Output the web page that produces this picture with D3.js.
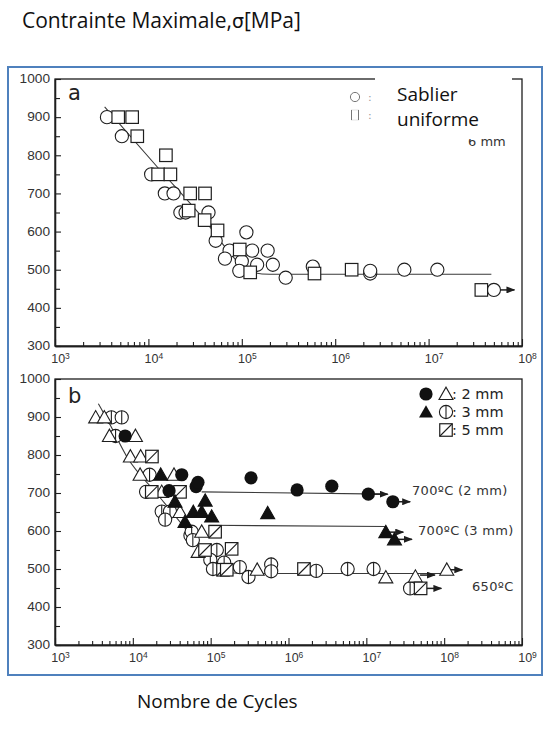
<!DOCTYPE html>
<html>
<head>
<meta charset="utf-8">
<script src="https://cdn.jsdelivr.net/npm/d3@7"></script>
<style>
  body { margin: 0; background: #fff; }
  svg { display: block; }
</style>
</head>
<body>
<script>
// ---------- axis ticks ----------
const decadesA = [1e3, 1e4, 1e5, 1e6, 1e7, 1e8];
const decadesB = [1e3, 1e4, 1e5, 1e6, 1e7, 1e8, 1e9];
const stressTicks = [300, 400, 500, 600, 700, 800, 900, 1000];
const stressMinor = [350, 450, 550, 650, 750, 850, 950];

// ---------- panel a : 6 mm specimens, [cycles, stress MPa] ----------
const aCircles = [
  [3.6e3, 900], [5.2e3, 850], [1.07e4, 750], [1.5e4, 700], [1.86e4, 700],
  [2.2e4, 650], [2.5e4, 650], [4.4e4, 650], [1.12e5, 598], [5.25e4, 576],
  [7.4e4, 550], [1.29e5, 550], [1.89e5, 550], [6.6e4, 529], [1.0e5, 522],
  [1.46e5, 513], [2.15e5, 513], [9.4e4, 497], [2.95e5, 479], [5.76e5, 508],
  [2.37e6, 490], [2.37e6, 497], [5.5e6, 500], [1.24e7, 500], [5.0e7, 447]
];
const aSquares = [
  [4.75e3, 900], [6.7e3, 900], [7.6e3, 850], [1.54e4, 800], [1.27e4, 750],
  [1.72e4, 750], [2.8e4, 700], [4.04e4, 700], [2.7e4, 655], [4.0e4, 630],
  [5.5e4, 603], [9.5e4, 553], [1.23e5, 493], [6.0e5, 490], [1.5e6, 500],
  [3.67e7, 447]
];
// run-outs: [cycles at stop, stress, arrow tip]
const aRunouts = [[5.0e7, 447, 8.3e7]];
const aFit = [
  [3.4e3, 927], [1.28e4, 766], [4.0e4, 630], [8.0e4, 535], [1.2e5, 495],
  [2.0e5, 488], [4.7e7, 488]
];

// ---------- panel b : 2, 3 and 5 mm specimens ----------
const bFilledCircles = [   // 700 ºC, 2 mm
  [7.96e3, 850], [2.92e4, 706], [4.25e4, 748], [6.5e4, 717], [6.87e4, 728],
  [3.3e5, 740], [1.29e6, 708], [3.6e6, 718], [1.06e7, 697], [2.19e7, 677]
];
const bFilledTriangles = [ // 700 ºC, 3 mm
  [2.28e4, 748], [3.48e4, 677], [8.5e4, 680], [4.68e4, 624], [5.98e4, 650],
  [7.67e4, 650], [1.03e5, 638], [5.4e5, 647], [1.78e7, 597], [2.3e7, 578]
];
const bTriangles = [       // 650 ºC, 2 mm
  [3.33e3, 899], [4.3e3, 899], [5.0e3, 850], [1.08e4, 850], [9.3e3, 796],
  [1.26e4, 796], [1.24e4, 748], [3.38e4, 748], [2.35e4, 703], [4.04e4, 650],
  [7.67e4, 598], [6.9e4, 545], [3.96e5, 498], [1.78e7, 478], [4.27e7, 480],
  [1.08e8, 498]
];
const bPhiCircles = [      // 650 ºC, 3 mm
  [5.3e3, 899], [7.2e3, 899], [6.0e3, 850], [1.64e4, 748], [1.48e4, 703],
  [2.35e4, 651], [3.0e4, 651], [2.6e4, 630], [5.5e4, 588], [5.7e4, 598],
  [5.9e4, 576], [1.2e5, 550], [9.9e4, 524], [1.49e5, 517], [1.07e5, 500],
  [2.37e5, 505], [3.06e5, 479], [5.99e5, 512], [5.99e5, 494], [2.27e6, 495],
  [5.75e6, 500], [1.24e7, 500], [3.65e7, 449]
];
const bSlashSquares = [    // 650 ºC, 5 mm
  [1.76e4, 796], [1.75e4, 703], [4.04e4, 703], [1.14e5, 598], [8.46e4, 550],
  [1.86e5, 553], [1.44e5, 498], [1.61e5, 498], [1.58e6, 500], [4.98e7, 449]
];
const bRunouts = [
  [1.06e7, 697, 1.88e7], [2.19e7, 677, 3.66e7], [1.78e7, 597, 2.98e7],
  [2.3e7, 578, 3.85e7], [1.08e8, 498, 1.71e8], [4.98e7, 449, 9.2e7],
  [4.9e7, 484, 7.6e7]
];
const bFit650 = [
  [3.6e3, 935], [5.0e3, 883], [8.7e3, 790], [2.0e4, 700], [5.0e4, 600],
  [1.0e5, 520], [1.8e5, 490], [2.6e5, 488], [1.08e8, 488]
];
const bFit700a = [[7.66e4, 703], [1.78e7, 697]];
const bFit700b = [[9.4e4, 615], [1.78e7, 612]];

const legendB = [":  2 mm", ":  3 mm", ":  5 mm"];
const notesB = [["700ºC (2 mm)", 699], ["700ºC (3 mm)", 620], ["650ºC", 478]];

// ---------- drawing ----------
const INK = "#1e1e1e";
const svg = d3.select("body").append("svg")
  .attr("width", 545).attr("height", 729)
  .style("font-family", "'DejaVu Sans', sans-serif");

const defs = svg.append("defs");
defs.append("marker").attr("id", "head")
  .attr("markerUnits", "userSpaceOnUse")
  .attr("markerWidth", 9).attr("markerHeight", 7)
  .attr("refX", 8).attr("refY", 3.5).attr("orient", "auto")
  .append("path").attr("d", "M0,0L9,3.5L0,7Z").attr("fill", INK);

const title = svg.append("text").attr("x", 22).attr("y", 28)
  .style("font-family", "'Open Sans', sans-serif").style("font-size", "21px").attr("fill", "#111");
title.append("tspan").text("Contrainte Maximale,");
title.append("tspan").style("font-family", "'DejaVu Sans', sans-serif").style("font-size", "19px").text("σ");
title.append("tspan").text("[MPa]");

svg.append("rect").attr("x", 8).attr("y", 67).attr("width", 534).attr("height", 608)
  .attr("fill", "none").attr("stroke", "#4f81bd").attr("stroke-width", 2);

svg.append("text").attr("x", 137).attr("y", 708)
  .style("font-family", "'Open Sans', sans-serif").style("font-size", "19px")
  .attr("fill", "#111").text("Nombre de Cycles");

const xA = d3.scaleLog().domain([1e3, 1e8]).range([55, 522]);
const yA = d3.scaleLinear().domain([300, 1000]).range([346, 79]);
const xB = d3.scaleLog().domain([1e3, 1e9]).range([55, 522]);
const yB = d3.scaleLinear().domain([300, 1000]).range([645, 379]);

function styleAxis(sel) {
  sel.select(".domain").attr("stroke", INK).attr("stroke-width", 1.3);
  sel.selectAll(".tick line").attr("stroke", INK).attr("stroke-width", 1.1);
}

const Y_STRETCH = 1.14;   // stress labels are set slightly wide

function frame(g, x, y, decades) {
  const [x0, x1] = x.range(), [y0, y1] = y.range();
  // plot box
  g.append("rect").attr("x", x0).attr("y", y1).attr("width", x1 - x0).attr("height", y0 - y1)
    .attr("fill", "none").attr("stroke", INK).attr("stroke-width", 1.3);

  const minors = [];
  decades.slice(0, -1).forEach(d => { for (let k = 2; k <= 9; k++) minors.push(d * k); });
  g.append("g").attr("transform", `translate(0,${y0})`)
    .call(d3.axisBottom(x).tickValues(minors).tickSize(-4).tickSizeOuter(0).tickFormat(""))
    .call(styleAxis).selectAll("text").remove();

  const bx = g.append("g").attr("transform", `translate(0,${y0})`)
    .call(d3.axisBottom(x).tickValues(decades).tickSize(-7).tickSizeOuter(0).tickPadding(8).tickFormat(""))
    .call(styleAxis);
  bx.selectAll(".tick text").each(function (d) {
    const t = d3.select(this).attr("fill", "#333").style("font-size", "12.5px").attr("dx", "0.4em");
    t.append("tspan").text("10");
    t.append("tspan").attr("dy", "-0.5em").style("font-size", "8.5px").text(Math.round(Math.log10(d)));
  });

  g.append("g").attr("transform", `translate(${x0},0)`)
    .call(d3.axisLeft(y).tickValues(stressMinor).tickSize(-5).tickSizeOuter(0).tickFormat(""))
    .call(styleAxis).selectAll("text").remove();
  g.append("g").attr("transform", `translate(${x0},0)`)
    .call(d3.axisLeft(y).tickValues(stressTicks).tickSize(-6).tickSizeOuter(0).tickPadding(5).tickFormat(d3.format("d")))
    .call(styleAxis)
    .selectAll(".tick text").attr("fill", "#333").style("font-size", "12px")
    .attr("x", -5 / Y_STRETCH).attr("transform", `scale(${Y_STRETCH},1)`);
}

const R = 6.6, S = 12.5;
const triPath = "M-7,5.5L7,5.5L0,-6.8Z";

function fitLine(g, pts, x, y) {
  g.append("path").datum(pts)
    .attr("d", d3.line().x(d => x(d[0])).y(d => y(d[1])).curve(d3.curveMonotoneX))
    .attr("fill", "none").attr("stroke", "#3a3a3a").attr("stroke-width", 1.1);
}
function runouts(g, data, x, y) {
  g.selectAll(null).data(data).join("line")
    .attr("x1", d => x(d[0])).attr("x2", d => x(d[2]))
    .attr("y1", d => y(d[1])).attr("y2", d => y(d[1]))
    .attr("stroke", INK).attr("stroke-width", 1.5).attr("marker-end", "url(#head)");
}
function place(g, data, x, y) {
  return g.selectAll(null).data(data).join("g")
    .attr("transform", d => `translate(${x(d[0])},${y(d[1])})`);
}
function openCircles(g, data, x, y, phi) {
  const m = place(g, data, x, y);
  m.append("circle").attr("r", R).attr("fill", "#fff").attr("stroke", INK).attr("stroke-width", 1.1);
  if (phi) m.append("line").attr("y1", -R).attr("y2", R).attr("stroke", INK).attr("stroke-width", 1.1);
}
function openSquares(g, data, x, y, slash) {
  const m = place(g, data, x, y);
  m.append("rect").attr("x", -S / 2).attr("y", -S / 2).attr("width", S).attr("height", S)
    .attr("fill", "#fff").attr("stroke", INK).attr("stroke-width", 1.2);
  if (slash) m.append("line").attr("x1", -S / 2).attr("y1", S / 2).attr("x2", S / 2).attr("y2", -S / 2)
    .attr("stroke", INK).attr("stroke-width", 1.1);
}
function triangles(g, data, x, y, filled) {
  place(g, data, x, y).append("path").attr("d", triPath)
    .attr("fill", filled ? "#111" : "#fff").attr("stroke", filled ? "#111" : INK).attr("stroke-width", 1.1);
}
function dots(g, data, x, y) {
  place(g, data, x, y).append("circle").attr("r", R).attr("fill", "#111");
}

// ----- panel a -----
const gA = svg.append("g");
frame(gA, xA, yA, decadesA);
fitLine(gA, aFit, xA, yA);
runouts(gA, aRunouts, xA, yA);
openCircles(gA, aCircles, xA, yA, false);
openSquares(gA, aSquares, xA, yA, false);

gA.append("text").attr("x", 68).attr("y", 100).style("font-size", "21px").attr("fill", "#222").text("a");
// legend (partly hidden by the label box)
gA.append("circle").attr("cx", 355).attr("cy", 97).attr("r", 4.6).attr("fill", "#fff")
  .attr("stroke", "#777").attr("stroke-width", 1);
gA.append("rect").attr("x", 351.5).attr("y", 110).attr("width", 7).attr("height", 10)
  .attr("fill", "#fff").attr("stroke", "#e4e4e4");
gA.append("line").attr("x1", 351.5).attr("x2", 351.5).attr("y1", 110).attr("y2", 120).attr("stroke", "#777");
gA.append("line").attr("x1", 358.5).attr("x2", 358.5).attr("y1", 110).attr("y2", 120).attr("stroke", "#777");
gA.append("text").attr("x", 368).attr("y", 101).style("font-size", "11px").attr("fill", "#999").text(":");
gA.append("text").attr("x", 368).attr("y", 119).style("font-size", "11px").attr("fill", "#999").text(":");
gA.append("text").attr("x", 468).attr("y", 146).style("font-size", "13px").attr("fill", "#333").text("6 mm");
gA.append("rect").attr("x", 375).attr("y", 70).attr("width", 137).attr("height", 69).attr("fill", "#fff");
gA.append("text").attr("x", 397).attr("y", 101)
  .style("font-family", "'Open Sans', sans-serif").style("font-size", "19px").attr("fill", "#111").text("Sablier");
gA.append("text").attr("x", 397).attr("y", 126)
  .style("font-family", "'Open Sans', sans-serif").style("font-size", "19px").attr("fill", "#111").text("uniforme");

// ----- panel b -----
const gB = svg.append("g");
frame(gB, xB, yB, decadesB);
[bFit650, bFit700a, bFit700b].forEach(p => fitLine(gB, p, xB, yB));
runouts(gB, bRunouts, xB, yB);
openCircles(gB, bPhiCircles, xB, yB, true);
triangles(gB, bTriangles, xB, yB, false);
openSquares(gB, bSlashSquares, xB, yB, true);
triangles(gB, bFilledTriangles, xB, yB, true);
dots(gB, bFilledCircles, xB, yB);

gB.append("text").attr("x", 68).attr("y", 403).style("font-size", "21px").attr("fill", "#222").text("b");

// legend
const lg = gB.append("g");
const rowsY = [394, 412, 430];
lg.append("circle").attr("cx", 426).attr("cy", rowsY[0]).attr("r", R).attr("fill", "#111");
lg.append("path").attr("transform", `translate(446,${rowsY[0]})`).attr("d", triPath)
  .attr("fill", "#fff").attr("stroke", INK).attr("stroke-width", 1.1);
lg.append("path").attr("transform", `translate(426,${rowsY[1]})`).attr("d", triPath).attr("fill", "#111");
lg.append("circle").attr("cx", 446).attr("cy", rowsY[1]).attr("r", R).attr("fill", "#fff").attr("stroke", INK).attr("stroke-width", 1.1);
lg.append("line").attr("x1", 446).attr("x2", 446).attr("y1", rowsY[1] - R).attr("y2", rowsY[1] + R).attr("stroke", INK).attr("stroke-width", 1.1);
lg.append("rect").attr("x", 446 - S / 2).attr("y", rowsY[2] - S / 2).attr("width", S).attr("height", S)
  .attr("fill", "#fff").attr("stroke", INK).attr("stroke-width", 1.2);
lg.append("line").attr("x1", 446 - S / 2).attr("y1", rowsY[2] + S / 2).attr("x2", 446 + S / 2).attr("y2", rowsY[2] - S / 2)
  .attr("stroke", INK).attr("stroke-width", 1.1);
lg.selectAll("text.leg").data(legendB).join("text").attr("class", "leg")
  .attr("x", 452).attr("y", (d, i) => rowsY[i] + 5)
  .style("font-size", "14.5px").attr("fill", "#222").text(d => d);

// curve annotations, placed at the right end of each fit line
gB.selectAll("text.note").data(notesB).join("text").attr("class", "note")
  .attr("x", (d, i) => [412, 418, 472][i])
  .attr("y", (d, i) => yB(d[1]) + [2, 12, 14][i])
  .style("font-size", "13px").style("letter-spacing", "0.3px").attr("fill", "#333").text(d => d[0]);
</script>
</body>
</html>
